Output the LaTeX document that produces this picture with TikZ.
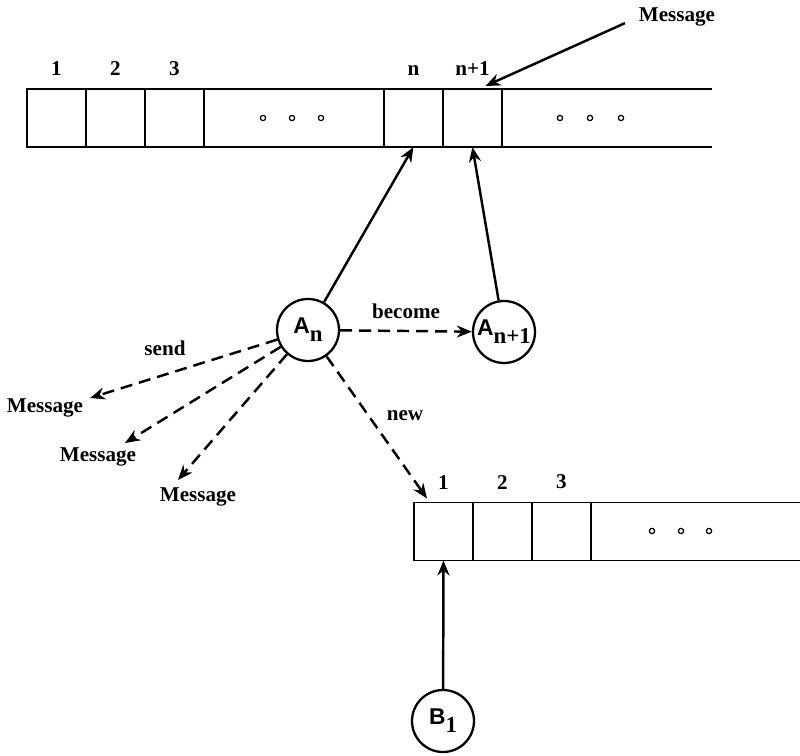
\documentclass[tikz,border=0pt]{standalone}
\usepackage{fontspec}
\setmainfont{Liberation Serif}
\setsansfont{Liberation Sans}
\usepackage{tikz}
\usetikzlibrary{arrows.meta,calc,positioning}

\tikzset{
  cell/.style={draw,line width=0.9pt,minimum width=1.18cm,minimum height=1.16cm,inner sep=0pt,outer sep=0pt},
  lbl/.style={font=\fontsize{12}{14}\selectfont\bfseries,inner sep=0pt},
  actor/.style={draw,circle,line width=1.3pt,minimum size=1.24cm,inner sep=0pt,font=\fontsize{13}{15}\selectfont\bfseries},
  msgarrow/.style={-{Stealth[length=3mm,width=2.4mm]},line width=1.4pt},
  dasharrow/.style={msgarrow,dash pattern=on 2.4mm off 1.4mm}
}
\newcommand{\actname}[2]{{\sffamily #1}\raisebox{-0.75ex}{\rmfamily #2}}

\begin{document}
\begin{tikzpicture}[x=0.02cm,y=-0.02cm]
\useasboundingbox (0,0) rectangle (800,756);
% mail queue of A
\node[cell] (t1) at (56.5,118) {};
\node[cell,right=0pt of t1] (t2) {};
\node[cell,right=0pt of t2] (t3) {};
\node[cell,right=0pt of t3,minimum width=3.6cm] (tdots) {};
\node[cell,right=0pt of tdots] (tn) {};
\node[cell,right=0pt of tn] (tn1) {};
\draw[line width=0.9pt] (tn1.north east) -- ++(210,0) (tn1.south east) -- ++(210,0);
\foreach \c/\t in {t1/1,t2/2,t3/3,tn/n,tn1/n+1}
  \node[lbl,above=2.6mm of \c] (\c-lbl) {\t};
\foreach \x in {263,292,321,560,590,621} \draw[line width=0.7pt] (\x,118) circle (1.5pt);

% mail queue of B
\node[cell] (b1) at (443.5,531.5) {};
\node[cell,right=0pt of b1] (b2) {};
\node[cell,right=0pt of b2] (b3) {};
\draw[line width=0.9pt] (b3.north east) -- ++(212,0) (b3.south east) -- ++(212,0);
\foreach \c/\t in {b1/1,b2/2,b3/3}
  \node[lbl,above=2.6mm of \c] (\c-lbl) {\t};
\foreach \x in {652,681,709} \draw[line width=0.7pt] (\x,531) circle (1.5pt);

% actors
\node[actor] (An) at (308,330) {\actname{A}{n}};
\node[actor] (An1) at (504,332) {\actname{A}{n+1}};
\node[actor] (B1) at (443,721) {\actname{B}{1}};

\draw[msgarrow] (An) -- (tn.south);
\draw[msgarrow] (An1) -- (tn1.south);
\draw[msgarrow] (B1) -- (b1.south);

% incoming message
\node[lbl] (msgin) at (677,17) {Message};
\draw[msgarrow,shorten <=3mm] (msgin.west) -- ($(tn1.north)+(13,-3)$);

% become
\draw[dasharrow] (An) -- node[lbl,above=2.2mm] (become) {become} (An1);

% send
\node[lbl] (send) at (165,348) {send};
\node[lbl] (msg1) at (45,408) {Message};
\node[lbl] (msg2) at (98,457) {Message};
\node[lbl] (msg3) at (198,497) {Message};
\coordinate (s1) at (90,398);
\coordinate (s2) at (125,443);
\coordinate (s3) at (178,480);
\foreach \s in {s1,s2,s3} \draw[dasharrow] (An) -- (\s);

% new
\node[lbl] (new) at (405,416) {new};
\draw[dasharrow] (An) -- ($(b1.north west)+(13,-4)$);
\end{tikzpicture}
\end{document}
